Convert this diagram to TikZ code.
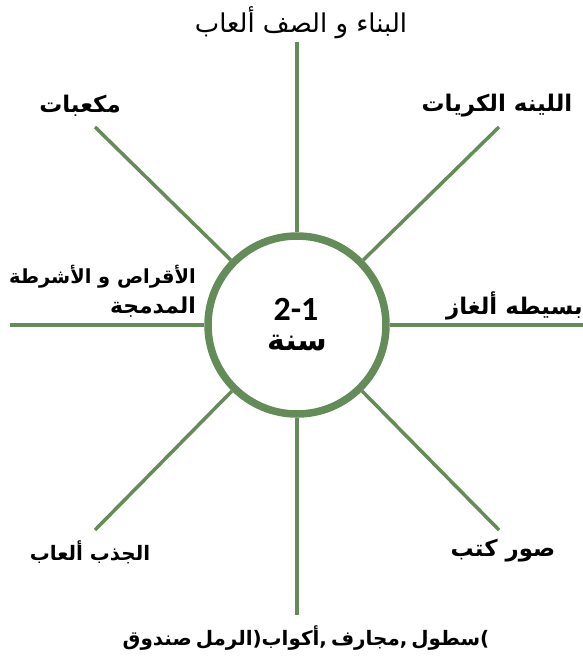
\documentclass[tikz,border=0pt]{standalone}
\usepackage{fontspec}
\TeXXeTstate=1
\setmainfont{DejaVu Sans}
\newfontfamily\arfont[Script=Arabic]{DejaVu Sans}
\newfontfamily\numfont{Carlito}
\definecolor{ringgreen}{RGB}{99,140,89}
\begin{document}
\begin{tikzpicture}[x=1bp,y=-1bp,
  spoke/.style={draw=ringgreen,line width=3.5bp},
  hubstyle/.style={draw=ringgreen,line width=7.5bp,circle,minimum size=178bp,inner sep=0pt,fill=white},
  lbl/.style={font=\arfont\bfseries\fontsize{23}{30}\selectfont,inner sep=0pt},
  lblreg/.style={font=\arfont\fontsize{26}{30}\selectfont,inner sep=0pt}]
\useasboundingbox (0,0) rectangle (583,657);
\node[hubstyle] (hub) at (297,325) {};
\coordinate (eN) at (297,42);
\coordinate (eS) at (297,615);
\coordinate (eW) at (10,325);
\coordinate (eE) at (583,325);
\coordinate (eNW) at (95,127);
\coordinate (eNE) at (499,127);
\coordinate (eSW) at (95,530);
\coordinate (eSE) at (499,530);
\foreach \e in {eN,eS,eW,eE,eNW,eNE,eSW,eSE}{\draw[spoke] (hub) -- (\e);}
\node[inner sep=0pt,font=\numfont\bfseries\fontsize{34}{34}\selectfont] (hnum) at (296,309) {2-1};
\node[inner sep=0pt,font=\arfont\bfseries\fontsize{30}{30}\selectfont] (hyear) at (297,343) {\beginR سنة\endR};
\node[lblreg] (tN) at (301,23) {\beginR البناء و الصف ألعاب\endR};
\node[lbl] (tNW) at (80,106) {\beginR مكعبات\endR};
\node[lbl] (tNE) at (497,106) {\beginR اللينه الكريات\endR};
\node[lbl,font=\arfont\bfseries\fontsize{19.5}{30}\selectfont,anchor=east] (tW1) at (196,277) {\beginR الأقراص و الأشرطة\endR};
\node[lbl,font=\arfont\bfseries\fontsize{22}{30}\selectfont,anchor=east] (tW2) at (196,307) {\beginR المدمجة\endR};
\node[lbl,anchor=east] (tE) at (583,306) {\beginR بسيطه ألغاز\endR};
\node[lbl,font=\arfont\bfseries\fontsize{20}{30}\selectfont] (tSW) at (90,552) {\beginR الجذب ألعاب\endR};
\node[lbl] (tSE) at (503,551) {\beginR صور كتب\endR};
\node[lbl,font=\arfont\bfseries\fontsize{20}{30}\selectfont] (tS) at (306,638) {\spaceskip=4bp\beginR\hbox{)}\hbox{سطول} \hbox{,}\hbox{مجارف} \hbox{,}\hbox{أكواب}\hbox{(}\hbox{الرمل} \hbox{صندوق}\endR};
\end{tikzpicture}
\end{document}
